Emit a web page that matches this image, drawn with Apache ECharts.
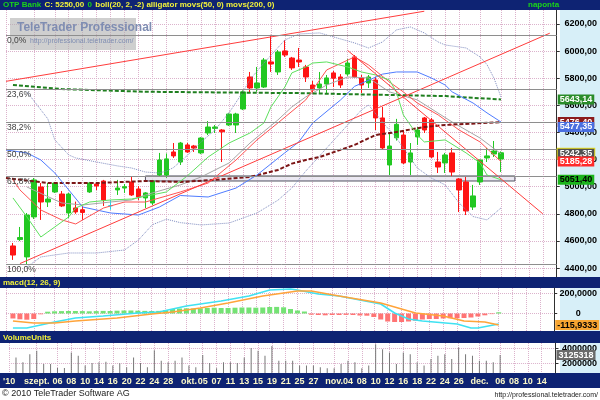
<!DOCTYPE html>
<html><head><meta charset="utf-8">
<style>html,body{margin:0;padding:0;background:#fff;}#c{width:600px;height:400px;}</style>
<script src="https://cdn.jsdelivr.net/npm/echarts@6/dist/echarts.min.js"></script>
</head><body><div id="c"></div>
<script>
// ---------- DATA ----------
const dates = ['2010-08-26','2010-08-27','2010-08-30','2010-08-31','2010-09-01','2010-09-02','2010-09-03','2010-09-06','2010-09-07','2010-09-08','2010-09-09','2010-09-10','2010-09-13','2010-09-14','2010-09-15','2010-09-16','2010-09-17','2010-09-20','2010-09-21','2010-09-22','2010-09-23','2010-09-24','2010-09-27','2010-09-28','2010-09-29','2010-09-30','2010-10-01','2010-10-04','2010-10-05','2010-10-06','2010-10-07','2010-10-08','2010-10-11','2010-10-12','2010-10-13','2010-10-14','2010-10-15','2010-10-18','2010-10-19','2010-10-20','2010-10-21','2010-10-22','2010-10-25','2010-10-26','2010-10-27','2010-10-28','2010-10-29','2010-11-02','2010-11-03','2010-11-04','2010-11-05','2010-11-08','2010-11-09','2010-11-10','2010-11-11','2010-11-12','2010-11-15','2010-11-16','2010-11-17','2010-11-18','2010-11-19','2010-11-22','2010-11-23','2010-11-24','2010-11-25','2010-11-26','2010-11-29','2010-11-30','2010-12-01','2010-12-02','2010-12-03','2010-12-06','2010-12-07','2010-12-08','2010-12-09','2010-12-10','2010-12-13','2010-12-14','2010-12-15','2010-12-16'];

const tickDates = ['2010-08-26','2010-09-01','2010-09-06','2010-09-08','2010-09-10','2010-09-14','2010-09-16','2010-09-20','2010-09-22','2010-09-24','2010-09-28','2010-10-01','2010-10-05','2010-10-07','2010-10-11','2010-10-13','2010-10-15','2010-10-19','2010-10-21','2010-10-25','2010-10-27','2010-11-02','2010-11-04','2010-11-08','2010-11-10','2010-11-12','2010-11-16','2010-11-18','2010-11-22','2010-11-24','2010-11-26','2010-12-01','2010-12-06','2010-12-08','2010-12-10','2010-12-14'];
const tickTexts = ["'10",'szept.','06','08','10','14','16','20','22','24','28','okt.','05','07','11','13','15','19','21','25','27','nov.','04','08','10','12','16','18','22','24','26','dec.','06','08','10','14'];

const opens  = [null,4563,4610,4482,4777,4998,4887,4961,4946,4806,4843,4830,4961,5020,5042,4860,4976,4990,5035,4983,4917,4880,5086,5086,5256,5182,5308,5300,5249,5396,5430,5418,5455,5455,5573,5809,5728,5735,5920,5846,6001,5949,5934,5883,5750,5728,5757,5839,5809,5831,5957,5802,5765,5787,5507,5160,5360,5381,5182,5367,5507,5492,5182,5175,5249,5057,5035,4850,5035,5212,5241,5204];
const closes = [null,4496,4625,4791,5050,4887,4909,5027,4858,4946,4814,4810,5027,5005,4902,4860,4990,5000,4939,4924,4954,5042,5197,5205,5227,5322,5256,5285,5359,5440,5440,5405,5536,5536,5699,5728,5765,5934,5905,5993,5971,5876,5920,5809,5713,5757,5802,5800,5750,5912,5809,5750,5809,5507,5286,5300,5460,5175,5249,5418,5418,5219,5145,5234,5108,4976,4821,4932,5197,5227,5263,5250];
const lows   = [null,4460,4599,4430,4762,4755,4850,4954,4850,4769,4800,4755,4954,4975,4858,4830,4939,4954,4932,4902,4843,4865,5079,5065,5212,5160,5249,5256,5240,5381,5396,5182,5448,5396,5565,5691,5700,5728,5846,5824,5957,5861,5883,5772,5684,5684,5691,5735,5728,5817,5802,5691,5728,5418,5271,5086,5340,5167,5086,5308,5396,5212,5101,5101,5072,4813,4791,4828,5013,5182,5219,5108];
const highs  = [null,4585,4703,4806,5064,5027,5027,5035,4968,4954,4890,4860,5035,5035,5050,4902,5050,5020,5072,5005,4960,5050,5249,5245,5322,5330,5322,5308,5365,5484,5455,5425,5545,5545,5710,5846,5883,5949,6120,6008,6082,5957,6023,5898,5780,5846,5824,5853,5830,5942,5971,5824,5824,5809,5588,5396,5500,5418,5322,5440,5514,5507,5256,5249,5286,5064,5072,5013,5200,5286,5337,5260];

const volumes = [null,2800000,2160000,3250000,3700000,1950000,1950000,1400000,1400000,3470000,3040000,1730000,2070000,2160000,2250000,1730000,2030000,1500000,2800000,2070000,1500000,3780000,2370000,2160000,2370000,2800000,1730000,1500000,3120000,2070000,1370000,2160000,2160000,2070000,2800000,4080000,3700000,3040000,4350000,2370000,2370000,2370000,1730000,1730000,1730000,1500000,1370000,1370000,1950000,2370000,2160000,1370000,1730000,4560000,3900000,3470000,1950000,3470000,3250000,2160000,1730000,2600000,3040000,3250000,2600000,4130000,3250000,3040000,2370000,2370000,2160000,3125318];

const macdHist = [null,-50,-58,-62,-55,-8,18,22,24,25,25,24,22,24,26,25,28,30,30,28,26,25,26,35,45,50,52,50,52,55,58,55,55,58,60,60,58,60,65,66,62,45,30,20,-12,-15,-18,-15,-15,-14,-15,-20,-22,-35,-60,-80,-85,-85,-80,-72,-60,-55,-55,-50,-48,-48,-45,-40,-30,-18,-6,12];
const macdLine = [[1,-145],[3,-145],[7,-85],[10,-45],[14,-25],[19,5],[22,15],[26,75],[31,125],[35,175],[38,235],[41,245],[42,235],[45,195],[48,175],[51,135],[54,95],[56,5],[58,-55],[60,-75],[65,-105],[67,-145],[68,-145],[71,-104]];
const signalLine = [[1,-75],[4,-95],[7,-95],[10,-75],[16,-45],[21,-5],[24,15],[28,55],[32,105],[37,175],[42,225],[44,225],[48,175],[54,105],[57,45],[59,5],[63,-25],[66,-75],[69,-85],[71,-115.9333]];

const bollUp = [[3,5700],[6,5500],[7,5345],[9,5234],[10,5212],[13,5182],[16,5153],[18,5138],[20,5108],[22,5101],[23,5115],[24,5140],[26,5230],[28,5330],[30,5420],[32,5545],[34,5700],[35,5790],[37,5912],[40,6082],[42,6126],[45,6134],[47,6104],[50,6060],[52,6023],[54,6067],[56,6156],[58,6178],[60,6134],[62,6067],[63,6045],[66,6023],[68,5957],[69,5900],[70,5800],[71,5662]];
const bollDn = [[3,4408],[5,4482],[9,4511],[13,4511],[17,4533],[19,4607],[21,4720],[23,4760],[25,4735],[28,4718],[32,4732],[36,4806],[39,4900],[41,4990],[43,5115],[46,5285],[49,5455],[51,5566],[52,5603],[54,5477],[56,5359],[58,5212],[59,5138],[61,5064],[63,5013],[65,4880],[67,4780],[69,4755],[71,4843]];
const bollMid = [[3,4998],[8,4880],[11,4865],[15,4887],[18,4902],[20,4939],[25,5013],[28,5072],[32,5175],[35,5322],[39,5492],[41,5588],[43,5662],[46,5750],[49,5809],[52,5802],[55,5699],[59,5640],[64,5477],[68,5359],[71,5242.35]];
const jaw = [[0,5271],[3,5249],[5,5197],[7,5101],[9,4976],[11,4850],[15,4806],[19,4791],[22,4850],[25,4935],[29,4924],[33,4990],[36,5086],[40,5250],[42,5330],[44,5470],[48,5640],[50,5740],[54,5830],[56,5846],[59,5846],[61,5802],[63,5750],[64,5699],[67,5617],[69,5544],[71,5477.35]];
const teeth = [[1,5050],[2,4976],[5,4828],[8,4755],[10,4725],[11,4755],[14,4843],[17,4887],[20,4887],[25,4961],[29,5027],[33,5197],[36,5345],[39,5470],[43,5640],[46,5861],[50,5957],[52,5898],[55,5772],[57,5699],[59,5617],[62,5529],[65,5418],[68,5330],[71,5185.28]];
const lips = [[1,4917],[3,4777],[5,4629],[6,4666],[9,4777],[10,4843],[12,4887],[15,4902],[18,4909],[21,4940],[23,4961],[26,5079],[29,5219],[32,5322],[35,5396],[37,5470],[38,5588],[40,5735],[41,5839],[43,5883],[44,5912],[46,5920],[49,5883],[51,5846],[53,5824],[55,5787],[56,5699],[57,5529],[59,5381],[60,5330],[63,5345],[66,5249],[68,5175],[69,5086],[71,5051.40]];
const movs50 = [[0,5064],[6,5027],[13,5027],[20,5042],[25,5035],[30,5050],[35,5072],[39,5123],[41,5170],[43,5197],[45,5219],[50,5308],[53,5381],[56,5403],[60,5440],[63,5455],[71,5476.40]];
const movs200 = [[1,5750],[8,5720],[20,5700],[42,5690],[63,5668],[71,5643.14]];

const trend1 = [[0,5777],[60,6294]];
const trend2 = [[2,4433],[78,6132]];
const trend3 = [[49,6005],[77,4800]];

const fibValues = [6120,5721,5474,5275,5076,4430];
const fibLabels = ['0,0%','23,6%','38,2%','50,0%','61,8%','100,0%'];
const zoneFrom = '2010-09-23', zoneTo = '2010-12-08', zoneLow = 5042, zoneHigh = 5079;

const priceTicks = [4400,4600,4800,5000,5200,5400,5600,5800,6000,6200];
const macdTicks = [0,200];
const volTicks = [2000000,4000000];

// ---------- STYLE ----------
const NAVY = '#0e2373', CYAN = '#d7eff8', GRIDC = '#dcb2cc';
const FONT = '"Liberation Sans", Arial, sans-serif';
const L = 6, W = 553;
const lastDate = dates[dates.length - 1];
const tickSet = new Set(tickDates);
const comma = (v, d) => v.toFixed(d).replace('.', ',');

const candles = dates.map((d, i) => opens[i] == null ? '-' : [opens[i], closes[i], lows[i], highs[i]]);

function endBox(series, digits, bg, fg, extra) {
  const v = series[series.length - 1];
  const val = Array.isArray(v) ? v[1] : v;
  return {
    silent: true, animation: false, symbol: 'rect', symbolSize: 0,
    data: [{ coord: [lastDate, val] }],
    label: Object.assign({
      show: true, position: 'right', distance: 1,
      formatter: () => digits < 0 ? String(val) : comma(val, digits),
      backgroundColor: bg, color: fg, fontSize: 9, fontFamily: FONT, fontWeight: 'bold',
      padding: [1, 2, 0, 2], lineHeight: 9
    }, extra || {})
  };
}

function xAxisCfg(gi, labels) {
  return {
    type: 'category', gridIndex: gi, data: dates, boundaryGap: false,
    axisLine: { show: false }, axisTick: { show: false },
    axisLabel: labels ? {
      show: true, interval: (i, v) => tickSet.has(v),
      formatter: v => tickTexts[tickDates.indexOf(v)],
      color: '#fbf8c8', fontSize: 9, fontFamily: FONT, fontWeight: 'bold', margin: 4
    } : { show: false },
    splitLine: { show: true, interval: (i, v) => tickSet.has(v), lineStyle: { type: 'dotted', color: GRIDC, width: 1 } }
  };
}
function yAxisCfg(gi, min, max, ticks, fmt) {
  return {
    type: 'value', gridIndex: gi, position: 'right', min, max, scale: true,
    axisLine: { show: true, lineStyle: { color: '#303030' } },
    axisTick: { show: true, length: 3, customValues: ticks, lineStyle: { color: '#303030' } },
    axisLabel: { show: true, customValues: ticks, formatter: fmt, align: 'center', margin: 24,
      color: '#000', fontSize: 9, fontFamily: FONT, fontWeight: 'bold' },
    splitLine: { show: true, lineStyle: { type: 'dotted', color: GRIDC } }
  };
}
function line(data, color, width, type, extra) {
  return Object.assign({
    type: 'line', xAxisIndex: 0, yAxisIndex: 0, data, symbol: 'none', silent: true, z: 3,
    lineStyle: { color, width, type: type || 'solid' }, animation: false
  }, extra || {});
}

const option = {
  animation: false,
  backgroundColor: '#ffffff',
  grid: [
    { left: L, width: W, top: 10, height: 267 },
    { left: L, width: W, top: 288, height: 43 },
    { left: L, width: W, top: 343, height: 30 }
  ],
  xAxis: [xAxisCfg(0, false), xAxisCfg(1, false), xAxisCfg(2, true)],
  yAxis: [
    yAxisCfg(0, 4334, 6303, priceTicks, v => comma(v, 2)),
    yAxisCfg(1, -175, 255, macdTicks, v => v === 0 ? '0' : comma(v, 4)),
    yAxisCfg(2, 733333, 4733333, volTicks, v => String(v))
  ],
  graphic: [
    { type: 'rect', z: -10, shape: { x: 0, y: 0, width: 600, height: 10 }, style: { fill: NAVY } },
    { type: 'rect', z: -10, shape: { x: 0, y: 277, width: 600, height: 11 }, style: { fill: NAVY } },
    { type: 'rect', z: -10, shape: { x: 0, y: 331, width: 600, height: 12 }, style: { fill: NAVY } },
    { type: 'rect', z: -10, shape: { x: 0, y: 373, width: 600, height: 15 }, style: { fill: NAVY } },
    { type: 'rect', z: -10, shape: { x: 560, y: 10, width: 40, height: 267 }, style: { fill: CYAN } },
    { type: 'rect', z: -10, shape: { x: 560, y: 288, width: 40, height: 43 }, style: { fill: CYAN } },
    { type: 'rect', z: -10, shape: { x: 560, y: 343, width: 40, height: 30 }, style: { fill: CYAN } },
    { type: 'text', z: 10, x: 3, y: 5, style: {
        text: '{g|OTP Bank} {y|C: 5250,00} {g|0} {y|boll(20, 2, -2) alligator movs(50, 0) movs(200, 0)}',
        verticalAlign: 'middle',
        rich: {
          g: { fill: '#19d419', fontSize: 8, fontWeight: 'bold', fontFamily: FONT },
          y: { fill: '#f2f23a', fontSize: 8, fontWeight: 'bold', fontFamily: FONT }
        } } },
    { type: 'text', z: 10, x: 528, y: 5, style: { text: 'naponta', fill: '#19d419', font: 'bold 8px ' + FONT, verticalAlign: 'middle' } },
    { type: 'text', z: 10, x: 3, y: 283, style: { text: 'macd(12, 26, 9)', fill: '#f2f23a', font: 'bold 8px ' + FONT, verticalAlign: 'middle' } },
    { type: 'text', z: 10, x: 3, y: 337.5, style: { text: 'VolumeUnits', fill: '#f2f23a', font: 'bold 8px ' + FONT, verticalAlign: 'middle' } },
    { type: 'text', z: 10, x: 2, y: 394, style: { text: '\u00a9 2010 TeleTrader Software AG', fill: '#222', font: '9px ' + FONT, verticalAlign: 'middle' } },
    { type: 'text', z: 10, x: 598, y: 395, style: { text: 'http://professional.teletrader.com/', fill: '#222', font: '7px ' + FONT, verticalAlign: 'middle', align: 'right' } },
    { type: 'rect', z: 5, shape: { x: 10, y: 18, width: 126, height: 32 }, style: { fill: 'rgba(175,175,175,0.6)' } },
    { type: 'text', z: 6, x: 17, y: 28, style: { text: 'TeleTrader Professional', fill: '#7f8db2', font: 'bold 12px ' + FONT, verticalAlign: 'middle' } },
    { type: 'text', z: 6, x: 30, y: 41, style: { text: 'http://professional.teletrader.com/', fill: '#7f8db2', font: '7px ' + FONT, verticalAlign: 'middle' } }
  ],
  series: [
    {
      type: 'candlestick', xAxisIndex: 0, yAxisIndex: 0, data: candles, barWidth: 5, silent: true, z: 2,
      itemStyle: { color: '#22c822', color0: '#ff1414', borderColor: '#22c822', borderColor0: '#ff1414', borderColorDoji: '#19d8f0', borderWidth: 1 },
      markLine: {
        silent: true, animation: false, symbol: ['none', 'none'],
        lineStyle: { color: '#8e8e8e', type: 'solid', width: 1 },
        label: { show: true, position: 'insideStartBottom', distance: 1, color: '#404040', fontSize: 8.5, fontFamily: FONT },
        data: fibValues.map((v, k) => ({ yAxis: v, label: { formatter: fibLabels[k] } }))
      },
      markArea: {
        silent: true, animation: false,
        itemStyle: { color: 'rgba(228,224,238,0.75)', borderColor: '#505060', borderWidth: 1 },
        data: [[{ xAxis: zoneFrom, yAxis: zoneHigh }, { xAxis: zoneTo, yAxis: zoneLow }]]
      }
    },
    line(bollUp, '#7f8cc0', 1, 'dotted'),
    line(bollDn, '#7f8cc0', 1, 'dotted'),
    line(bollMid, '#a6a6a6', 1, 'solid', { markPoint: endBox(bollMid, 2, '#505050', '#ffffff', { borderColor: '#e8e020', borderWidth: 1 }) }),
    line(movs200, '#1f7f1f', 2, [4, 2], { markPoint: endBox(movs200, 2, '#2a8c2a', '#ffffff') }),
    line(movs50, '#7c1616', 2, [4, 2], { markPoint: endBox(movs50, 2, '#8b1c1c', '#ffffff') }),
    line(jaw, '#4f7cff', 1, 'solid', { markPoint: endBox(jaw, 2, '#4a6fe0', '#ffffff', { offset: [0, 5] }) }),
    line(teeth, '#ff5252', 1, 'solid', { markPoint: endBox(teeth, 2, '#ff2a2a', '#ffffff') }),
    line(lips, '#5ee05e', 1, 'solid', { markPoint: endBox(lips, 2, '#1cb41c', '#000000') }),
    line(trend1, '#ff3c3c', 1),
    line(trend2, '#ff3c3c', 1),
    line(trend3, '#ff3c3c', 1),
    {
      type: 'bar', xAxisIndex: 1, yAxisIndex: 1, data: macdHist.map(v => v == null ? '-' : v), barWidth: 5, silent: true,
      itemStyle: { color: p => p.value >= 0 ? '#74e274' : '#ff7474' }
    },
    { type: 'line', xAxisIndex: 1, yAxisIndex: 1, data: macdLine, symbol: 'none', silent: true, lineStyle: { color: '#3fe2f2', width: 1.5 } },
    { type: 'line', xAxisIndex: 1, yAxisIndex: 1, data: signalLine, symbol: 'none', silent: true, lineStyle: { color: '#ffa43a', width: 1.5 },
      markPoint: endBox(signalLine, 4, '#f7a531', '#000000') },
    {
      type: 'bar', xAxisIndex: 2, yAxisIndex: 2, data: volumes.map(v => v == null ? '-' : v), barWidth: 1, silent: true,
      itemStyle: { color: '#777777' },
      markPoint: endBox(volumes, -1, '#6a6a6a', '#ffffff')
    }
  ]
};

const chart = echarts.init(document.getElementById('c'), null, { width: 600, height: 400 });
chart.setOption(option);
</script>
</body></html>
